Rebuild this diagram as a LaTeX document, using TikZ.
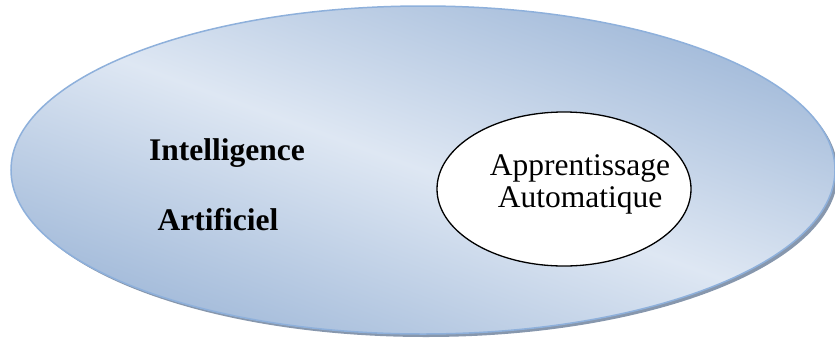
\documentclass[tikz,border=0pt]{standalone}
\usepackage{fontspec}
\setmainfont{Liberation Serif}
\usetikzlibrary{shapes.geometric}
\definecolor{iaDark}{RGB}{166,189,219}
\definecolor{iaLight}{RGB}{222,231,243}
\definecolor{iaEdge}{RGB}{142,176,219}
\definecolor{iaShadow}{RGB}{135,151,173}
\begin{document}
\begin{tikzpicture}[x=1pt,y=-1pt,
  bigtxt/.style={font=\fontsize{31.5}{32}\selectfont\bfseries, anchor=base, inner sep=0pt},
  smalltxt/.style={font=\fontsize{31.5}{32}\selectfont, anchor=base, inner sep=0pt},
  subset/.style={ellipse, draw=black, line width=1.3pt, fill=white,
    minimum width=254pt, minimum height=154pt, inner sep=0pt}]
\useasboundingbox (0,0) rectangle (835,341);
% soft shadow of the outer set
\fill[iaShadow] (426,173) ellipse [x radius=412, y radius=164];
% outer set: reflected diagonal gradient
\begin{scope}
  \clip (423,170) ellipse [x radius=412, y radius=164];
  \begin{scope}[transform canvas={shift={(423,170)}, rotate=-20}]
    \shade[top color=iaDark, bottom color=iaDark, middle color=iaLight]
      (-520,-210) rectangle (520,210);
  \end{scope}
\end{scope}
\draw[iaEdge, line width=1.5pt] (423,170) ellipse [x radius=412, y radius=164];
% labels of the outer set
\node[bigtxt] (intel) at (227,160) {Intelligence};
\node[bigtxt] (artif) at (218,230) {Artificiel};
% inner set
\node[subset] (ml) at (564,189) {};
\node[smalltxt] (appr) at (580,175) {Apprentissage};
\node[smalltxt] (auto) at (580,207) {Automatique};
\end{tikzpicture}
\end{document}
